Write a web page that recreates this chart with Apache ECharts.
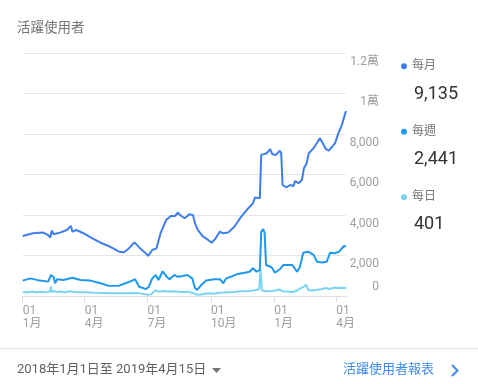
<!DOCTYPE html>
<html>
<head>
<meta charset="utf-8">
<script src="https://cdn.jsdelivr.net/npm/echarts@6/dist/echarts.min.js"></script>
<style>
html,body{margin:0;padding:0;background:#fff;}
#chart{width:478px;height:384px;}
</style>
</head>
<body>
<div id="chart"></div>
<script>
const seriesNames = ['每月', '每週', '每日'];
const seriesColors = ['#3f7ef0', '#1f98f1', '#7bd4f3'];

const xTickDates = ['2018-01-01', '2018-04-01', '2018-07-01', '2018-10-01', '2019-01-01', '2019-04-01'];
const xTickLabels = ['01\n1月', '01\n4月', '01\n7月', '01\n10月', '01\n1月', '01\n4月'];
const yTickLabels = ['0', '2,000', '4,000', '6,000', '8,000', '1萬', '1.2萬'];

const monthlyData = [
  ['2018-01-01', 2960], ['2018-01-16', 3100], ['2018-01-31', 3130], ['2018-02-07', 3010],
  ['2018-02-10', 2880], ['2018-02-12', 3230], ['2018-02-15', 3050], ['2018-02-24', 3130],
  ['2018-03-06', 3260], ['2018-03-12', 3460], ['2018-03-14', 3180], ['2018-03-20', 3260],
  ['2018-03-30', 3100], ['2018-04-12', 2850], ['2018-04-24', 2630], ['2018-05-08', 2430],
  ['2018-05-21', 2190], ['2018-05-28', 2160], ['2018-06-04', 2350], ['2018-06-12', 2650],
  ['2018-06-19', 2400], ['2018-06-26', 2190], ['2018-07-02', 1980], ['2018-07-08', 2270],
  ['2018-07-14', 2350], ['2018-07-20', 3100], ['2018-07-28', 3750], ['2018-08-04', 3950],
  ['2018-08-10', 3950], ['2018-08-14', 4110], ['2018-08-19', 3950], ['2018-08-24', 3840],
  ['2018-08-31', 4040], ['2018-09-05', 4000], ['2018-09-08', 3590], ['2018-09-12', 3260],
  ['2018-09-19', 2960], ['2018-09-27', 2770], ['2018-10-02', 2630], ['2018-10-07', 2800],
  ['2018-10-14', 3180], ['2018-10-18', 3100], ['2018-10-26', 3130], ['2018-11-04', 3420],
  ['2018-11-14', 3920], ['2018-11-24', 4330], ['2018-12-01', 4580], ['2018-12-04', 4870],
  ['2018-12-11', 4830], ['2018-12-13', 6970], ['2018-12-21', 7050], ['2018-12-26', 7250],
  ['2018-12-29', 7010], ['2019-01-03', 6960], ['2019-01-09', 7180], ['2019-01-11', 7050],
  ['2019-01-13', 5480], ['2019-01-19', 5370], ['2019-01-24', 5480], ['2019-01-29', 5430],
  ['2019-01-31', 5680], ['2019-02-05', 5570], ['2019-02-10', 5730], ['2019-02-13', 6310],
  ['2019-02-17', 6560], ['2019-02-20', 7050], ['2019-02-27', 7300], ['2019-03-04', 7570],
  ['2019-03-08', 7790], ['2019-03-12', 7570], ['2019-03-17', 7250], ['2019-03-21', 7180],
  ['2019-03-26', 7380], ['2019-03-30', 7540], ['2019-04-04', 8040], ['2019-04-09', 8450],
  ['2019-04-14', 9030], ['2019-04-15', 9135]
];

const weeklyData = [
  ['2018-01-01', 760], ['2018-01-12', 870], ['2018-01-26', 760], ['2018-02-07', 710],
  ['2018-02-11', 1040], ['2018-02-15', 920], ['2018-02-17', 630], ['2018-02-20', 830],
  ['2018-03-01', 790], ['2018-03-14', 900], ['2018-03-26', 790], ['2018-04-09', 760],
  ['2018-04-24', 630], ['2018-05-06', 500], ['2018-05-21', 510], ['2018-05-30', 630],
  ['2018-06-09', 760], ['2018-06-13', 830], ['2018-06-19', 460], ['2018-06-29', 340],
  ['2018-07-03', 460], ['2018-07-08', 870], ['2018-07-13', 1040], ['2018-07-17', 790],
  ['2018-07-23', 1220], ['2018-07-28', 990], ['2018-08-02', 830], ['2018-08-09', 1040],
  ['2018-08-14', 950], ['2018-08-21', 990], ['2018-08-28', 1040], ['2018-09-04', 870],
  ['2018-09-08', 380], ['2018-09-11', 300], ['2018-09-17', 540], ['2018-09-24', 760],
  ['2018-10-06', 830], ['2018-10-14', 830], ['2018-10-19', 630], ['2018-10-23', 870],
  ['2018-11-02', 990], ['2018-11-09', 1090], ['2018-11-19', 1150], ['2018-11-26', 1200],
  ['2018-12-01', 1370], ['2018-12-06', 1200], ['2018-12-11', 1280], ['2018-12-13', 3180],
  ['2018-12-16', 3300], ['2018-12-18', 3100], ['2018-12-20', 1530], ['2018-12-28', 1420],
  ['2019-01-02', 1150], ['2019-01-09', 1320], ['2019-01-14', 1530], ['2019-01-21', 1530],
  ['2019-01-27', 1530], ['2019-02-03', 1200], ['2019-02-07', 1420], ['2019-02-12', 2140],
  ['2019-02-19', 2190], ['2019-02-27', 2030], ['2019-03-04', 1690], ['2019-03-11', 1650],
  ['2019-03-18', 1690], ['2019-03-23', 2140], ['2019-03-30', 2110], ['2019-04-05', 2190],
  ['2019-04-12', 2470], ['2019-04-15', 2441]
];

const dailyData = [
  ['2018-01-01', 170], ['2018-01-05', 200], ['2018-01-10', 180], ['2018-01-15', 220],
  ['2018-01-20', 190], ['2018-01-26', 210], ['2018-02-01', 180], ['2018-02-07', 200],
  ['2018-02-10', 230], ['2018-02-11', 470], ['2018-02-12', 190], ['2018-02-15', 260],
  ['2018-02-18', 200], ['2018-02-24', 220], ['2018-03-03', 190], ['2018-03-10', 230],
  ['2018-03-17', 200], ['2018-03-24', 180], ['2018-04-01', 190], ['2018-04-10', 170],
  ['2018-04-20', 160], ['2018-05-01', 150], ['2018-05-10', 140], ['2018-05-20', 130],
  ['2018-06-01', 140], ['2018-06-10', 150], ['2018-06-20', 130], ['2018-06-28', 90],
  ['2018-07-02', 60], ['2018-07-06', 80], ['2018-07-10', 200], ['2018-07-13', 280],
  ['2018-07-18', 210], ['2018-07-24', 250], ['2018-08-01', 220], ['2018-08-10', 240],
  ['2018-08-18', 200], ['2018-08-28', 210], ['2018-09-05', 150], ['2018-09-10', 70],
  ['2018-09-15', 60], ['2018-09-22', 110], ['2018-10-01', 140], ['2018-10-06', 110],
  ['2018-10-12', 160], ['2018-10-20', 170], ['2018-10-28', 190], ['2018-11-05', 200],
  ['2018-11-12', 230], ['2018-11-20', 240], ['2018-11-28', 260], ['2018-12-05', 300],
  ['2018-12-10', 330], ['2018-12-12', 1280], ['2018-12-14', 280], ['2018-12-20', 230],
  ['2018-12-28', 250], ['2019-01-03', 270], ['2019-01-08', 320], ['2019-01-10', 400],
  ['2019-01-13', 240], ['2019-01-20', 220], ['2019-01-27', 200], ['2019-02-02', 250],
  ['2019-02-08', 380], ['2019-02-12', 440], ['2019-02-16', 560], ['2019-02-19', 300],
  ['2019-02-25', 270], ['2019-03-04', 310], ['2019-03-10', 330], ['2019-03-16', 390],
  ['2019-03-22', 350], ['2019-03-30', 420], ['2019-04-05', 390], ['2019-04-10', 410],
  ['2019-04-15', 401]
];

const allData = [monthlyData, weeklyData, dailyData];

function ts(s) {
  const p = s.split('-').map(Number);
  return Date.UTC(p[0], p[1] - 1, p[2]);
}
function toPoints(arr) { return arr.map(d => [ts(d[0]), d[1]]); }
function fmt(n) { return n.toLocaleString('en-US'); }

const FONT = "Roboto, 'Noto Sans CJK TC', 'Noto Sans', sans-serif";
const tickTs = xTickDates.map(ts);
const lastValues = {};
seriesNames.forEach((n, i) => { lastValues[n] = allData[i][allData[i].length - 1][1]; });

const chart = echarts.init(document.getElementById('chart'), null, {renderer: 'canvas'});
chart.setOption({
  animation: false,
  textStyle: {fontFamily: FONT},
  title: {
    text: '活躍使用者', left: 17, top: 21, padding: 0,
    textStyle: {fontSize: 13.5, fontWeight: 'normal', color: '#757575', fontFamily: FONT, lineHeight: 16}
  },
  grid: {left: 22.7, right: 132, top: 53, bottom: 88},
  legend: [
    {
      orient: 'vertical', left: 401, top: 58.3, itemGap: 49.5, padding: 0,
      icon: 'circle', itemWidth: 6, itemHeight: 6, selectedMode: false,
      data: seriesNames,
      textStyle: {fontSize: 12, color: '#757575', lineHeight: 16, fontFamily: FONT}
    },
    {
      orient: 'vertical', left: 408, top: 82, itemGap: 41, padding: 0,
      icon: 'none', itemWidth: 1, itemHeight: 1, selectedMode: false,
      data: seriesNames,
      formatter: n => fmt(lastValues[n]),
      textStyle: {fontSize: 18, color: '#333333', lineHeight: 24, fontFamily: FONT}
    }
  ],
  xAxis: {
    type: 'value',
    min: ts('2018-01-01'), max: ts('2019-04-15'),
    axisLine: {show: true, lineStyle: {color: '#e0e0e0', width: 1}},
    axisTick: {show: true, customValues: tickTs, length: 6, lineStyle: {color: '#dcdcdc'}},
    splitLine: {show: false},
    axisLabel: {
      customValues: tickTs,
      align: 'left', margin: 8,
      fontSize: 12, lineHeight: 13, color: '#9e9e9e', fontFamily: FONT,
      formatter: v => { const i = tickTs.indexOf(v); return i >= 0 ? xTickLabels[i] : ''; }
    }
  },
  yAxis: {
    type: 'value', position: 'right', min: 0, max: 12000, interval: 2000,
    axisLine: {show: false}, axisTick: {show: false},
    splitLine: {lineStyle: {color: '#e6e6e6', width: 1}},
    axisLabel: {
      align: 'right', margin: 33, verticalAlign: 'middle',
      fontSize: 12, color: '#9e9e9e', fontFamily: FONT,
      formatter: v => { const l = yTickLabels[Math.round(v / 2000)]; return v === 0 ? '{z|' + l + '}' : '{b|' + l + '}'; },
      rich: {
        b: {fontSize: 12, lineHeight: 14, color: '#9e9e9e', fontFamily: FONT, padding: [17, 0, 0, 0]},
        z: {fontSize: 12, lineHeight: 14, color: '#9e9e9e', fontFamily: FONT, padding: [0, 0, 18, 0]}
      }
    }
  },
  series: [
    {name: seriesNames[2], type: 'line', data: toPoints(dailyData), showSymbol: false, color: seriesColors[2],
     lineStyle: {width: 2, color: seriesColors[2]}, z: 2},
    {name: seriesNames[1], type: 'line', data: toPoints(weeklyData), showSymbol: false, color: seriesColors[1],
     lineStyle: {width: 2, color: seriesColors[1]}, z: 3},
    {name: seriesNames[0], type: 'line', data: toPoints(monthlyData), showSymbol: false, color: seriesColors[0],
     lineStyle: {width: 2, color: seriesColors[0]}, z: 4}
  ],
  graphic: [
    {type: 'line', shape: {x1: 0, y1: 348.5, x2: 478, y2: 348.5}, style: {stroke: '#e0e0e0', lineWidth: 1}},
    {type: 'text', x: 17, y: 370, style: {text: '2018年1月1日至 2019年4月15日', fontSize: 13, fill: '#616161',
      fontFamily: FONT, verticalAlign: 'middle'}},
    {type: 'polygon', shape: {points: [[212, 368], [221, 368], [216.5, 373]]}, style: {fill: '#757575'}},
    {type: 'text', x: 343, y: 370, style: {text: '活躍使用者報表', fontSize: 13, fill: '#3d8ae8',
      fontFamily: FONT, verticalAlign: 'middle'}},
    {type: 'polyline', shape: {points: [[452, 365], [457.5, 370.5], [452, 376]]},
     style: {stroke: '#3d8ae8', lineWidth: 2, fill: null}}
  ]
});
</script>
</body>
</html>
